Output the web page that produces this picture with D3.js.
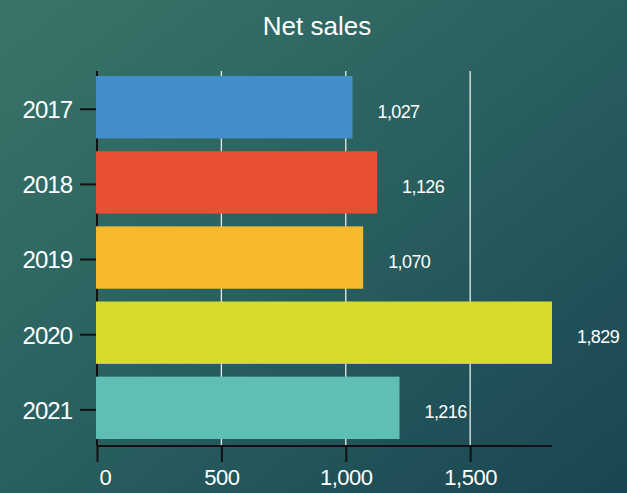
<!DOCTYPE html>
<html>
<head>
<meta charset="utf-8">
<script src="https://cdn.jsdelivr.net/npm/d3@7"></script>
<style>
  html, body { margin: 0; padding: 0; }
  body { width: 627px; height: 493px; overflow: hidden; }
  svg text { font-family: "Liberation Sans", Arial, sans-serif; fill: #ffffff; }
</style>
</head>
<body>
<svg id="chart" width="627" height="493"></svg>
<script>
// Net sales by year
const years = ["2017", "2018", "2019", "2020", "2021"];
const netSales = [1027, 1126, 1070, 1829, 1216];
const barColors = ["#428fcc", "#e94f33", "#f6b92c", "#d6db2c", "#5fbfb4"];
const xTicks = [0, 500, 1000, 1500];
const title = "Net sales";

const W = 627, H = 493;
const margin = { top: 71, right: 75, bottom: 47, left: 97 };
const innerW = W - margin.left - margin.right;
const innerH = H - margin.top - margin.bottom;

const svg = d3.select("#chart");

// background gradient
const defs = svg.append("defs");
const grad = defs.append("linearGradient")
  .attr("id", "bg").attr("x1", "0%").attr("y1", "0%").attr("x2", "100%").attr("y2", "100%");
grad.append("stop").attr("offset", "0%").attr("stop-color", "#3a7468");
grad.append("stop").attr("offset", "50%").attr("stop-color", "#295f5f");
grad.append("stop").attr("offset", "100%").attr("stop-color", "#1a4552");
svg.append("rect").attr("width", W).attr("height", H).attr("fill", "url(#bg)");

svg.append("text")
  .attr("x", 317).attr("y", 35)
  .attr("text-anchor", "middle")
  .style("font-size", "26px")
  .text(title);

const g = svg.append("g").attr("transform", `translate(${margin.left},${margin.top})`);

const x = d3.scaleLinear().domain([0, d3.max(netSales)]).range([0, innerW]);
const y = d3.scaleBand().domain(years).range([0, innerH])
  .paddingInner(0.17).paddingOuter(0.08).align(0.42);

// vertical grid lines
g.append("g").selectAll("line")
  .data(xTicks.filter(t => t > 0))
  .join("line")
  .attr("x1", d => x(d)).attr("x2", d => x(d))
  .attr("y1", 0).attr("y2", innerH)
  .attr("stroke", "#e8ecea").attr("stroke-width", 1.3);

// y axis (drawn beneath the bars)
const yAxis = g.append("g")
  .call(d3.axisLeft(y).tickSize(17).tickPadding(8));
yAxis.select(".domain").attr("stroke", "#111").attr("stroke-width", 2)
  .attr("d", `M0,0V${innerH}`);
yAxis.selectAll(".tick line").attr("stroke", "#111").attr("stroke-width", 2)
  .attr("transform", "translate(0,2)");
yAxis.selectAll(".tick text")
  .attr("fill", "#fff")
  .attr("dy", "0.45em")
  .style("font-size", "24px")
  .style("letter-spacing", "-1px")
  .style("font-family", "'Liberation Sans', Arial, sans-serif");

// x axis
const xAxis = g.append("g")
  .attr("transform", `translate(0,${innerH})`)
  .call(d3.axisBottom(x).tickValues(xTicks).tickFormat(d3.format(",")).tickSize(16).tickPadding(7));
xAxis.select(".domain").attr("stroke", "#111").attr("stroke-width", 2)
  .attr("d", `M0,0H${innerW}`);
xAxis.selectAll(".tick line").attr("stroke", "#111").attr("stroke-width", 2);
xAxis.selectAll(".tick text")
  .attr("fill", "#fff")
  .style("font-size", "22px")
  .style("letter-spacing", "-0.5px")
  .style("font-family", "'Liberation Sans', Arial, sans-serif")
  .attr("text-anchor", d => d === 0 ? "start" : "middle")
  .attr("dx", d => d === 0 ? "2" : "0");

// bars
g.append("g").selectAll("rect")
  .data(years)
  .join("rect")
  .attr("x", -1)
  .attr("y", d => y(d))
  .attr("width", (d, i) => x(netSales[i]) + 1)
  .attr("height", y.bandwidth())
  .attr("fill", (d, i) => barColors[i]);

// value labels
g.append("g").selectAll("text")
  .data(years)
  .join("text")
  .attr("x", (d, i) => x(netSales[i]) + 25)
  .attr("y", d => y(d) + y.bandwidth() / 2 + 4)
  .attr("dy", "0.35em")
  .style("font-size", "18px")
  .style("letter-spacing", "-0.6px")
  .text((d, i) => d3.format(",")(netSales[i]));
</script>
</body>
</html>
